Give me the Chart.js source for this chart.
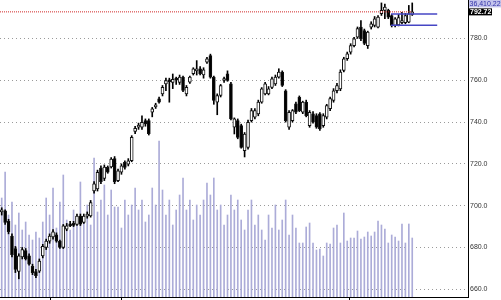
<!DOCTYPE html>
<html lang="en">
<head>
<meta charset="UTF-8">
<title>Price candles with volume</title>
<script src="https://cdn.jsdelivr.net/npm/chart.js"></script>
<style>
  html, body { margin: 0; padding: 0; background: #fff; }
</style>
</head>
<body>
<canvas id="chart" width="501" height="300"></canvas>
<script>
// OHLC per session, oldest first
const opens = [
  697, 697.5, 692.5, 685.5, 679.5, 668.5, 675.5, 678.5, 676, 671,
  668.5, 668.7, 676, 680, 683, 685, 686, 683, 680, 688.7,
  691, 691.5, 691, 695, 692, 695, 695.1, 707, 708, 718,
  713, 718.3, 718.5, 722.5, 712, 716, 720.7, 719.9, 721.5, 735.5,
  737.5, 737.5, 740.7, 740.7, 744.7, 747.3, 751.1, 753.5, 758.3, 760,
  759, 761, 759, 761.5, 753.5, 759.1, 763.1, 764.5, 765.5, 762.5,
  768.6, 771.8, 761.5, 749.5, 752.7, 759.9, 763.1, 758.3, 737.5, 740.7,
  738.3, 726.3, 727.9, 740.7, 742.3, 743.9, 749.5, 753.5, 753.5, 756.6,
  758.3, 761.5, 763.9, 755, 737.5, 740.7, 748.7, 751.8, 744.7, 749.5,
  738.3, 743.9, 743.1, 743.9, 738.3, 742.3, 746.4, 750.3, 755, 755.9,
  764.7, 770.3, 773.4, 776.6, 780.6, 785.4, 783.8, 776.6, 785.4, 786.2,
  785.4, 791.8, 793.4, 793.4, 791, 786.2, 786.5, 787.5, 787.5, 787.8,
  791.5
];
const highs = [
  699, 698, 693.5, 686.5, 680.5, 677, 680, 679.5, 677, 672,
  669.5, 674.5, 681.5, 684, 686.5, 688.5, 687, 683.5, 691, 691.5,
  692.5, 692.5, 696, 696, 696, 697, 702.5, 711.5, 717, 719,
  719.5, 719, 723, 723.5, 717.5, 720, 721.5, 722.5, 733.5, 738,
  739.5, 743, 741.5, 741.5, 747, 749, 752, 757.5, 761, 761,
  763, 761.5, 762.5, 762, 757.5, 762, 766, 769.4, 766.5, 766,
  771, 772.5, 762, 753.5, 758, 761.5, 764.5, 759, 742, 741.5,
  739, 735, 741, 746.5, 746.5, 750.5, 756.5, 759, 757, 761.5,
  762.5, 765.5, 764.5, 755.5, 745.5, 746, 749.5, 752.5, 750, 750.5,
  745.5, 745, 744, 744.5, 744, 748.5, 752, 756, 758.5, 765,
  771, 773.5, 777.5, 780.5, 785.5, 788.6, 784.5, 783.5, 788, 790.5,
  791, 797, 796.5, 794, 791.5, 790, 791.5, 792.5, 792, 795.8,
  797
];
const lows = [
  695.5, 691, 686.5, 675.5, 668, 665, 674.5, 674, 671.5, 667,
  665.5, 668, 675, 679, 682, 684, 682.5, 679.5, 679.5, 688,
  690, 690, 690.5, 690.5, 691.5, 694, 694.5, 706, 707, 710.5,
  712, 715.5, 718, 710.5, 711.5, 715, 717.5, 719, 721, 734.5,
  736.5, 736.5, 738, 733.8, 742.5, 746.5, 749, 752.5, 755, 749.5,
  756, 758, 758, 754.5, 752.5, 758.5, 762.5, 762.5, 762.5, 761,
  768, 761, 748.5, 743.5, 752, 759, 759.5, 741, 734.3, 732,
  727.5, 723.3, 727, 740, 741.5, 743, 749, 753, 753, 756,
  757.5, 761, 757, 740, 736.5, 740, 744, 745, 744, 742.5,
  737.5, 739.5, 737, 736, 737.5, 741.5, 745.5, 749.5, 754, 755,
  764, 769.5, 772.5, 776, 780, 779, 777, 775.2, 784.5, 785.5,
  785, 791, 789.5, 789.5, 785.5, 785.5, 786, 787, 787, 787.5,
  791
];
const closes = [
  697.5, 692, 687.5, 676.5, 669.5, 676, 679, 674.5, 672, 668,
  666.5, 673.5, 680.5, 683, 685.5, 687.5, 683, 680, 690.3, 690.3,
  690.3, 690.5, 695, 691.1, 695, 696, 701.5, 710.5, 716, 711.5,
  718.5, 716, 722.3, 711.5, 716.7, 719.1, 718.3, 721.5, 732.7, 737,
  738.5, 739.9, 739.1, 734.4, 746.3, 748, 749.5, 756.6, 759.9, 759.3,
  760.5, 760, 761.5, 755.1, 756.6, 761.5, 765.5, 765.5, 763.1, 765,
  770.3, 761.5, 750.3, 752.7, 757.5, 760.7, 759.9, 741.5, 741.5, 732.7,
  727.9, 734.3, 739.9, 745.5, 745.5, 749.5, 755.9, 758.3, 755.9, 760.7,
  761.5, 763.9, 757.5, 740.7, 744.7, 745.5, 744.7, 745.5, 749.5, 743.1,
  744.7, 739.9, 737.5, 736.7, 743.1, 747.9, 751.2, 755, 757.5, 763.9,
  770.3, 772.7, 776.6, 779.8, 784.7, 779.8, 777.6, 783, 787, 789.4,
  790.2, 793.4, 795, 790.2, 786.2, 789.4, 790, 788.5, 791, 791.8,
  792.72
];
const volumes = [
  99, 125, 82, 95, 72, 84, 67, 75, 62, 57,
  65, 59, 75, 99, 82, 109, 69, 95, 122, 77,
  67, 87, 72, 115, 79, 92, 72, 139, 85, 97,
  112, 82, 107, 90, 90, 69, 97, 82, 92, 109,
  87, 97, 75, 82, 109, 92, 156, 107, 82, 97,
  72, 87, 102, 119, 87, 97, 77, 92, 82, 97,
  114, 102, 119, 87, 92, 72, 82, 102, 87, 97,
  77, 67, 87, 97, 72, 82, 67, 57, 82, 69,
  92, 67, 77, 97, 62, 82, 69, 54, 54, 70,
  74, 54, 47, 48, 41, 54, 53, 69, 72, 54,
  84, 56, 59, 59, 66, 58, 60, 65, 61, 65,
  76, 72, 68, 54, 62, 60, 56, 73, 54, 73,
  59
];

const priceTicks = [660, 680, 700, 720, 740, 760, 780];
const lastPrice = 792.72;
const infoValue = '36,410.22';
const rangeHigh = 791.7;
const rangeLow = 786.3;
const rangeFrom = 113.8;
const rangeTo = 127.3;
const sessionTicks = [14, 35, 101.5];

const idx = closes.map((c, i) => i);

// bottom axis, session ticks and the two tags on the right axis
const extras = {
  id: 'extras',
  afterDraw(chart) {
    const ctx = chart.ctx;
    const a = chart.chartArea;
    const xs = chart.scales.x;
    const ys = chart.scales.y;
    ctx.save();
    ctx.strokeStyle = '#000';
    ctx.lineWidth = 1;
    ctx.beginPath();
    ctx.moveTo(a.left, a.bottom + 0.5);
    ctx.lineTo(a.right, a.bottom + 0.5);
    sessionTicks.forEach(t => {
      const px = Math.round(xs.getPixelForValue(t)) + 0.5;
      ctx.moveTo(px, a.bottom);
      ctx.lineTo(px, a.bottom + 3);
    });
    ctx.stroke();

    const py = ys.getPixelForValue(lastPrice);
    ctx.font = 'bold 7px "Liberation Sans", Arial, sans-serif';
    ctx.textBaseline = 'middle';
    ctx.textAlign = 'left';
    ctx.fillStyle = '#000';
    ctx.fillRect(a.right + 1, py - 3.5, 23, 7);
    ctx.fillStyle = '#fff';
    ctx.fillText(lastPrice.toFixed(2), a.right + 2, py + 0.5);

    ctx.font = '7px "Liberation Sans", Arial, sans-serif';
    ctx.fillStyle = '#c4c4ec';
    ctx.fillRect(a.right + 1, py - 12.5, 32, 8);
    ctx.fillStyle = '#3030a8';
    ctx.fillText(infoValue, a.right + 1.5, py - 8.3);
    ctx.restore();
  }
};

new Chart(document.getElementById('chart'), {
  type: 'bar',
  data: {
    datasets: [
      {
        label: 'Volume',
        yAxisID: 'yv',
        data: volumes.map((v, i) => ({ x: i, y: v })),
        backgroundColor: '#acacd8',
        barThickness: 1,
        grouped: false,
        order: 4
      },
      {
        label: 'Range',
        yAxisID: 'y',
        data: idx.map(i => ({ x: i, y: [lows[i], highs[i]] })),
        backgroundColor: '#000',
        barThickness: 1,
        grouped: false,
        order: 3
      },
      {
        label: 'Body',
        yAxisID: 'y',
        data: idx.map(i => ({ x: i, y: [opens[i], closes[i]] })),
        backgroundColor: c => closes[c.dataIndex] >= opens[c.dataIndex] ? '#fff' : '#000',
        borderColor: '#111',
        borderWidth: 1,
        borderSkipped: false,
        barThickness: 3,
        minBarLength: 2,
        grouped: false,
        order: 2
      },
      {
        type: 'line',
        label: 'Last',
        yAxisID: 'y',
        data: [{ x: -0.5, y: lastPrice }, { x: closes.length - 1, y: lastPrice }],
        borderColor: '#d02828',
        borderWidth: 1,
        borderDash: [1, 1],
        pointRadius: 0,
        order: 1
      },
      {
        type: 'line',
        label: 'High',
        yAxisID: 'y',
        data: [{ x: rangeFrom, y: rangeHigh }, { x: rangeTo, y: rangeHigh }],
        borderColor: '#4646c4',
        borderWidth: 1.5,
        pointRadius: 0,
        order: 0
      },
      {
        type: 'line',
        label: 'Low',
        yAxisID: 'y',
        data: [{ x: rangeFrom, y: rangeLow }, { x: rangeTo, y: rangeLow }],
        borderColor: '#4646c4',
        borderWidth: 1.5,
        pointRadius: 0,
        order: 0
      }
    ]
  },
  options: {
    responsive: false,
    animation: false,
    devicePixelRatio: 1,
    layout: { padding: { left: 0, top: 0, right: 0, bottom: 3 } },
    plugins: { legend: { display: false }, tooltip: { enabled: false } },
    scales: {
      x: { type: 'linear', min: -0.5, max: 136.3, offset: false, display: false },
      yv: { display: false, min: 0, max: 297 },
      y: {
        position: 'right',
        min: 656.3,
        max: 798.4,
        afterBuildTicks: s => { s.ticks = priceTicks.map(v => ({ value: v })); },
        afterFit: s => { s.width = 33; s.paddingTop = 0; s.paddingBottom = 0; },
        ticks: {
          font: { family: '"Liberation Sans", Arial, sans-serif', size: 7 },
          color: '#333',
          padding: 2,
          callback: v => Number(v).toFixed(1)
        },
        grid: { color: '#9a9a9a', drawTicks: false, lineWidth: 1 },
        border: { display: true, color: '#000', width: 1, dash: [1, 3] }
      }
    }
  },
  plugins: [extras]
});
</script>
</body>
</html>
